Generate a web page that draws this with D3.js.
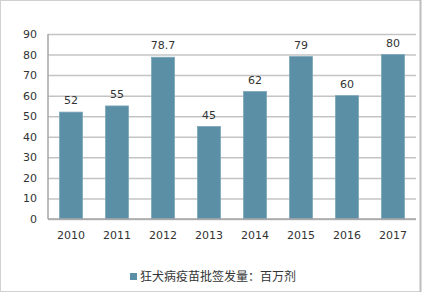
<!DOCTYPE html>
<html>
<head>
<meta charset="utf-8">
<script src="https://cdn.jsdelivr.net/npm/d3@7"></script>
<style>
  body { margin:0; background:#fff; }
  text { font-family: "DejaVu Sans", "Noto Sans CJK SC", sans-serif; fill:#333; }
</style>
</head>
<body>
<div id="canvas"></div>
<script>
// data
var years = ['2010','2011','2012','2013','2014','2015','2016','2017'];
var values = [52, 55, 78.7, 45, 62, 79, 60, 80];
var yTicks = [0,10,20,30,40,50,60,70,80,90];
var seriesName = '狂犬病疫苗批签发量：百万剂';

var W = 424, H = 292;
var m = {t:34, r:8, b:73, l:48};
var w = W - m.l - m.r, h = H - m.t - m.b;

var svg = d3.select('#canvas').append('svg')
  .attr('width', W).attr('height', H);

// outer frame
svg.append('rect')
  .attr('x', 0.5).attr('y', 0.5)
  .attr('width', 420).attr('height', H - 1)
  .attr('fill', 'none').attr('stroke', '#d0d0d0').attr('stroke-width', 1);
svg.append('line')
  .attr('x1', 420.5).attr('x2', 420.5).attr('y1', 0).attr('y2', H)
  .attr('stroke', '#bdbdbd').attr('stroke-width', 2);

var plot = svg.append('g').attr('transform', 'translate(' + m.l + ',' + m.t + ')');

var scaleX = d3.scaleBand().domain(years).range([0, w]).paddingInner(0.5).paddingOuter(0.25);
var scaleY = d3.scaleLinear().domain([0, 90]).range([h, 0]);

// y axis with gridlines
var axisY = d3.axisLeft(scaleY).tickValues(yTicks).tickSize(-w).tickPadding(11);
var gy = plot.append('g').attr('class', 'yAxis').call(axisY);
gy.select('.domain').remove();
gy.selectAll('.tick line').attr('stroke', '#c4c4c4').attr('stroke-width', 1.5);
gy.selectAll('.tick text').style('font-size', '11px').attr('fill', '#333');

// left axis line
plot.append('line').attr('x1', 0).attr('x2', 0).attr('y1', 0).attr('y2', h)
  .attr('stroke', '#a6a6a6').attr('stroke-width', 1.5);

// bars
plot.selectAll('rect.bar')
  .data(values)
  .enter().append('rect')
  .attr('class', 'bar')
  .attr('x', function(d, i){ return scaleX(years[i]); })
  .attr('y', function(d){ return scaleY(d); })
  .attr('width', scaleX.bandwidth())
  .attr('height', function(d){ return h - scaleY(d); })
  .attr('fill', '#5b8fa6')
  .attr('stroke', '#7aa6ba').attr('stroke-width', 0.8);

// bottom axis
plot.append('line').attr('x1', 0).attr('x2', w).attr('y1', h).attr('y2', h)
  .attr('stroke', '#a6a6a6').attr('stroke-width', 1.5);
var axisX = d3.axisBottom(scaleX).tickSize(0).tickPadding(12);
var gx = plot.append('g').attr('class', 'xAxis').attr('transform', 'translate(0,' + h + ')').call(axisX);
gx.select('.domain').remove();
gx.selectAll('.tick text').style('font-size', '11px').attr('fill', '#333');

// value labels
plot.selectAll('text.lbl')
  .data(values)
  .enter().append('text')
  .attr('class', 'lbl')
  .attr('x', function(d, i){ return scaleX(years[i]) + scaleX.bandwidth() / 2; })
  .attr('y', function(d){ return scaleY(d) - 8; })
  .attr('text-anchor', 'middle')
  .style('font-size', '11px')
  .text(function(d){ return d; });

// legend
var lg = svg.append('g').attr('transform', 'translate(130,273)');
lg.append('rect').attr('width', 7).attr('height', 7).attr('fill', '#5b8fa6');
lg.append('text').attr('x', 10).attr('y', 8).style('font-size', '12px').text(seriesName);
</script>
</body>
</html>
